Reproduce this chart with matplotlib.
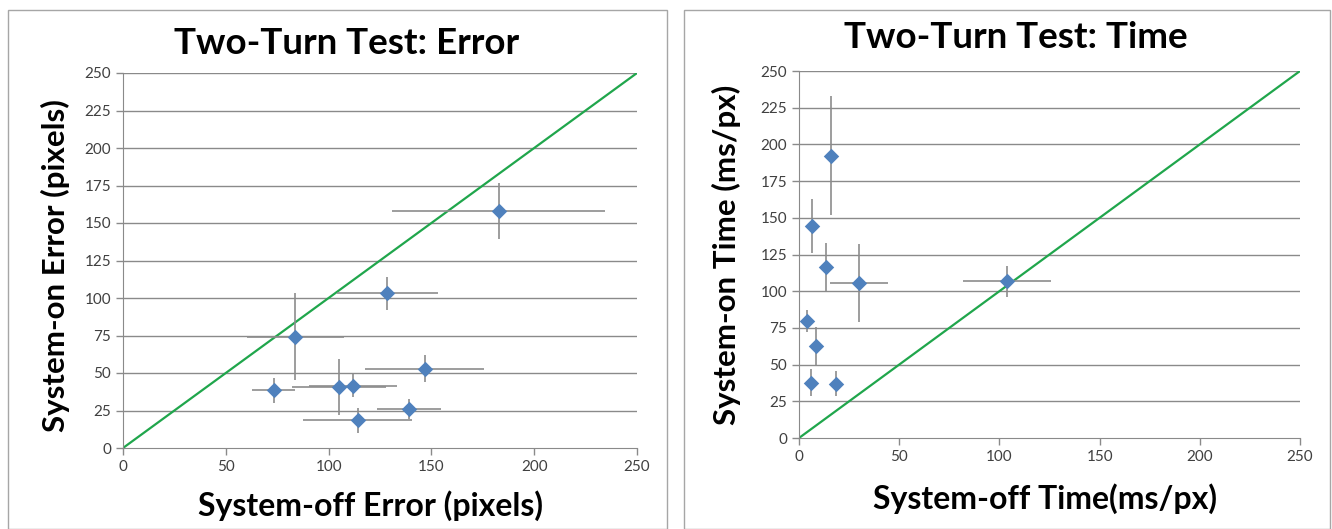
import numpy as np
import matplotlib.pyplot as plt
from matplotlib.patches import Rectangle

# Two-turn test: error (pixels)
err_off = [182.7, 128.5, 83.8, 73.3, 105.2, 111.9, 146.7, 139.0, 114.2]
err_off_sd = [51.7, 24.5, 23.5, 10.6, 22.9, 21.5, 29.0, 15.6, 26.5]
err_on = [158.0, 103.2, 74.1, 38.6, 40.8, 41.5, 52.7, 26.3, 18.4]
err_on_sd = [18.6, 11.0, 29.0, 8.4, 18.5, 7.6, 9.0, 6.7, 8.2]

# Two-turn test: time (ms/px)
time_off = [16.0, 6.4, 13.7, 30.1, 103.8, 4.2, 8.5, 5.8, 18.7]
time_off_sd = [0.0, 0.0, 2.0, 14.5, 22.1, 0.0, 0.0, 0.0, 0.0]
time_on = [192.3, 144.5, 116.3, 105.7, 106.8, 79.5, 62.5, 37.5, 37.0]
time_on_sd = [40.4, 18.6, 16.5, 26.4, 10.6, 7.5, 13.0, 9.2, 8.7]

ticks = [0, 25, 50, 75, 100, 125, 150, 175, 200, 225, 250]
xticks = [0, 50, 100, 150, 200, 250]

plt.rcParams['font.family'] = ['Lato', 'DejaVu Sans']

fig = plt.figure(figsize=(13.32, 5.29), dpi=100)

# panel frames
for x0, w in [(8, 659), (684, 646)]:
    fig.add_artist(Rectangle((x0 / 1332, 0), w / 1332, 519 / 529,
                             transform=fig.transFigure, fill=False,
                             edgecolor='#a6a6a6', linewidth=1))


def draw(ax, xs, xe, ys, ye, title, xlabel, ylabel, tx, ty, xlx, xly, ylx, yly):
    ax.set_xlim(0, 250)
    ax.set_ylim(0, 250)
    ax.set_yticks(ticks)
    ax.set_xticks(xticks)
    for t in ticks[1:]:
        ax.axhline(t, color='#8a8a8a', lw=1.0, zorder=1)
    ax.plot([0, 250], [0, 250], color='#20a64c', lw=1.6, zorder=2)
    ax.errorbar(xs, ys, xerr=xe, yerr=ye, fmt='none', ecolor='#8c8c8c',
                elinewidth=1.2, capsize=0, zorder=3)
    ax.scatter(xs, ys, marker='D', s=62, color='#4f81bd', zorder=4,
               linewidths=0)
    for s in ['top', 'right']:
        ax.spines[s].set_visible(False)
    for s in ['left', 'bottom']:
        ax.spines[s].set_color('#8a8a8a')
    ax.tick_params(colors='#8a8a8a', labelcolor='#404040', labelsize=11,
                   length=5, width=1)
    fig.text(tx, ty, title, ha='center', va='center', fontsize=26.5,
             fontweight='bold')
    fig.text(xlx, xly, xlabel, ha='center', va='center', fontsize=23,
             fontweight='bold')
    fig.text(ylx, yly, ylabel, ha='center', va='center', fontsize=22.5,
             fontweight='bold', rotation=90)


ax1 = fig.add_axes([123 / 1332, 1 - 448 / 529, 514 / 1332, 375 / 529])
draw(ax1, err_off, err_off_sd, err_on, err_on_sd,
     'Two-Turn Test: Error', 'System-off Error (pixels)',
     'System-on Error (pixels)',
     347 / 1332, 1 - 44 / 529, 370 / 1332, 1 - 506 / 529,
     55 / 1332, 1 - 266 / 529)

ax2 = fig.add_axes([799 / 1332, 1 - 438 / 529, 501 / 1332, 367 / 529])
draw(ax2, time_off, time_off_sd, time_on, time_on_sd,
     'Two-Turn Test: Time', 'System-off Time(ms/px)',
     'System-on Time (ms/px)',
     1016 / 1332, 1 - 37 / 529, 1045 / 1332, 1 - 499 / 529,
     726 / 1332, 1 - 255 / 529)

fig.savefig('out.png', dpi=100)
